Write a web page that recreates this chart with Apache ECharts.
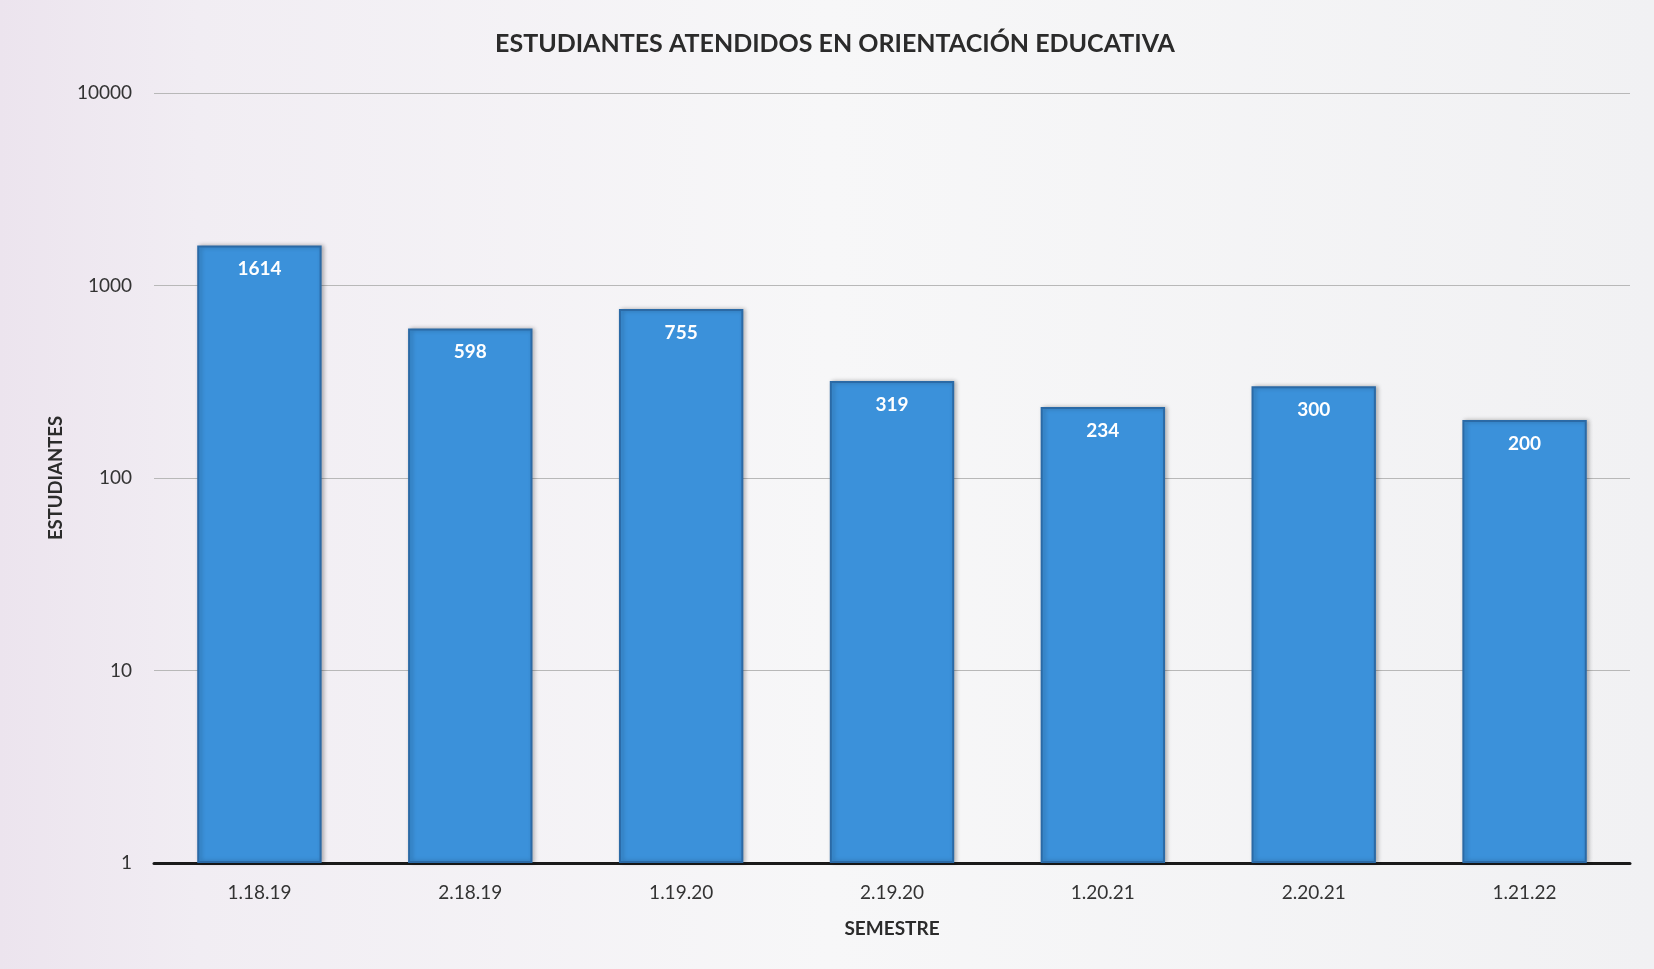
<!DOCTYPE html>
<html>
<head>
<meta charset="utf-8">
<script src="https://cdn.jsdelivr.net/npm/echarts@6/dist/echarts.min.js"></script>
<style>
html,body{margin:0;padding:0;width:1654px;height:969px;overflow:hidden;}
#chart{width:1654px;height:969px;}
</style>
</head>
<body>
<div id="chart"></div>
<script>
const categories = ['1.18.19', '2.18.19', '1.19.20', '2.19.20', '1.20.21', '2.20.21', '1.21.22'];
const estudiantes = [1614, 598, 755, 319, 234, 300, 200];
const chartTitle = 'ESTUDIANTES ATENDIDOS EN ORIENTACIÓN EDUCATIVA';
const yAxisName = 'ESTUDIANTES';
const xAxisName = 'SEMESTRE';

const chart = echarts.init(document.getElementById('chart'));
chart.setOption({
  backgroundColor: {
    type: 'linear', x: 0, y: 0, x2: 1, y2: 0,
    colorStops: [
      {offset: 0, color: '#ece4ee'},
      {offset: 0.12, color: '#f1edf3'},
      {offset: 0.5, color: '#f7f7f8'},
      {offset: 1, color: '#f1f1f3'}
    ]
  },
  title: {
    text: chartTitle,
    left: 830, top: 26, textAlign: 'center',
    textStyle: {fontFamily: 'Lato', fontWeight: 'bold', fontSize: 25, color: '#2b2b2b'}
  },
  grid: {left: 154, right: 24, top: 93, bottom: 106},
  xAxis: {
    type: 'category',
    data: categories,
    name: xAxisName,
    nameLocation: 'middle',
    nameGap: 56,
    nameTextStyle: {fontFamily: 'Lato', fontWeight: 'bold', fontSize: 19, color: '#2b2b2b'},
    axisLine: {lineStyle: {color: '#1a1a1a', width: 3}},
    axisTick: {show: false},
    axisLabel: {margin: 20, fontFamily: 'Lato', fontSize: 19, color: '#333'}
  },
  yAxis: {
    type: 'log',
    logBase: 10,
    min: 1, max: 10000,
    name: yAxisName,
    nameLocation: 'middle',
    nameGap: 88,
    nameRotate: 90,
    nameTextStyle: {fontFamily: 'Lato', fontWeight: 'bold', fontSize: 18.5, color: '#2b2b2b'},
    axisLine: {show: false},
    axisTick: {show: false},
    axisLabel: {
      margin: 22, fontFamily: 'Lato', fontSize: 19, color: '#333',
      formatter: function (v) { return String(Math.round(v)); }
    },
    splitLine: {lineStyle: {color: '#b8b8b8', width: 1.2}}
  },
  series: [{
    type: 'bar',
    data: estudiantes,
    barWidth: '59%',
    itemStyle: {
      color: '#3b91da',
      borderColor: '#2b6aa6',
      borderWidth: 2,
      shadowColor: 'rgba(0,0,0,0.25)',
      shadowBlur: 4,
      shadowOffsetX: 2,
      shadowOffsetY: 0
    },
    label: {
      show: true,
      position: 'insideTop',
      distance: 14,
      fontFamily: 'Lato',
      fontWeight: 'bold',
      fontSize: 19,
      color: '#ffffff'
    }
  }]
});
</script>
</body>
</html>
